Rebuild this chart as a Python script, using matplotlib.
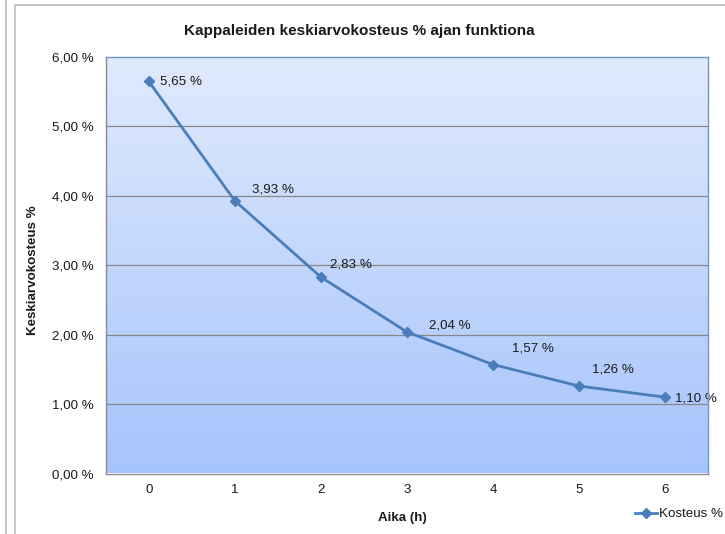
import numpy as np
import matplotlib
matplotlib.use("Agg")
import matplotlib.pyplot as plt
from matplotlib.colors import LinearSegmentedColormap
from matplotlib.lines import Line2D

plt.rcParams["font.family"] = ["Liberation Sans", "DejaVu Sans"]

# Data
hours = [0, 1, 2, 3, 4, 5, 6]
moisture = [5.65, 3.93, 2.83, 2.04, 1.57, 1.26, 1.10]
x_tick_labels = ["0", "1", "2", "3", "4", "5", "6"]
y_ticks = [0, 1, 2, 3, 4, 5, 6]
y_tick_labels = ["0,00 %", "1,00 %", "2,00 %", "3,00 %", "4,00 %", "5,00 %", "6,00 %"]
series_name = "Kosteus %"
title = "Kappaleiden keskiarvokosteus % ajan funktiona"
x_title = "Aika (h)"
y_title = "Keskiarvokosteus %"

# Data label offsets in pixels (dx, dy) from each marker
label_offsets = [(11, 0), (17, 11), (9, 13), (22, 6), (19, 16), (13, 17), (10, -1)]

W, H = 725, 534
DPI = 100
FS = 9.6
LINE_COLOR = "#4A7EBB"

fig = plt.figure(figsize=(W / DPI, H / DPI), dpi=DPI)
fig.patch.set_facecolor("white")

def fx(px):
    return px / W

def fy(py):
    return 1 - py / H

# Chart frame lines
frame_color = "#BDBDBD"
fig.add_artist(Line2D([fx(6), fx(6)], [0, 1], color=frame_color, lw=1.2))
fig.add_artist(Line2D([fx(15), fx(15)], [0, fy(5)], color=frame_color, lw=1.2))
fig.add_artist(Line2D([fx(15), 1], [fy(5), fy(5)], color=frame_color, lw=1.2))

left, right, top, bottom = 105.7, 708.0, 57.0, 473.5
ax = fig.add_axes([fx(left), fy(bottom), fx(right - left), (bottom - top) / H])

ax.set_xlim(-0.5, 6.5)
ax.set_ylim(0, 6)

# Gradient plot-area fill
cmap = LinearSegmentedColormap.from_list("bg", ["#A6C4FD", "#E0EAFC"])
grad = np.linspace(0, 1, 256).reshape(-1, 1)
ax.imshow(grad, aspect="auto", cmap=cmap, origin="lower",
          extent=(-0.5, 6.5, 0, 6), zorder=0)

for yv in y_ticks[1:-1]:
    ax.axhline(yv, color="#878787", lw=0.9, zorder=1)

ax.plot(hours, moisture, color=LINE_COLOR, lw=2.0, marker="D", markersize=5,
        markerfacecolor=LINE_COLOR, markeredgecolor=LINE_COLOR, zorder=3,
        label=series_name)

for xv, yv, (dx, dy) in zip(hours, moisture, label_offsets):
    txt = f"{yv:.2f}".replace(".", ",") + " %"
    ax.annotate(txt, (xv, yv), xytext=(dx, dy), textcoords="offset pixels",
                ha="left", va="center", fontsize=FS, color="#1A1A1A",
                annotation_clip=False, clip_on=False, zorder=4)

ax.set_xticks(hours)
ax.set_xticklabels(x_tick_labels)
ax.set_yticks(y_ticks)
ax.set_yticklabels(y_tick_labels)
ax.tick_params(axis="both", length=0, labelsize=FS, colors="#1A1A1A")
ax.tick_params(axis="y", pad=8.4)
ax.tick_params(axis="x", pad=7.5)

ax.spines["left"].set_color("#8A8A8A")
ax.spines["bottom"].set_color("#8A8A8A")
ax.spines["top"].set_color("#6F95CF")
ax.spines["right"].set_color("#6F95CF")
for s in ax.spines.values():
    s.set_linewidth(1.0)
    s.set_zorder(5)

fig.text(fx(359), fy(31), title, ha="center", va="center",
         fontsize=11, fontweight="bold", color="#1A1A1A")
fig.text(fx(402), fy(518), x_title, ha="center", va="center",
         fontsize=FS, fontweight="bold", color="#1A1A1A")
fig.text(fx(33), fy(270), y_title, ha="center", va="center", rotation=90,
         fontsize=FS, fontweight="bold", color="#1A1A1A")

fig.legend(loc="center left", bbox_to_anchor=(fx(635), fy(514)),
           frameon=False, fontsize=FS, handlelength=1.65, handletextpad=0.15,
           borderpad=0, borderaxespad=0, labelcolor="#1A1A1A")

fig.savefig("out.png", dpi=DPI)
